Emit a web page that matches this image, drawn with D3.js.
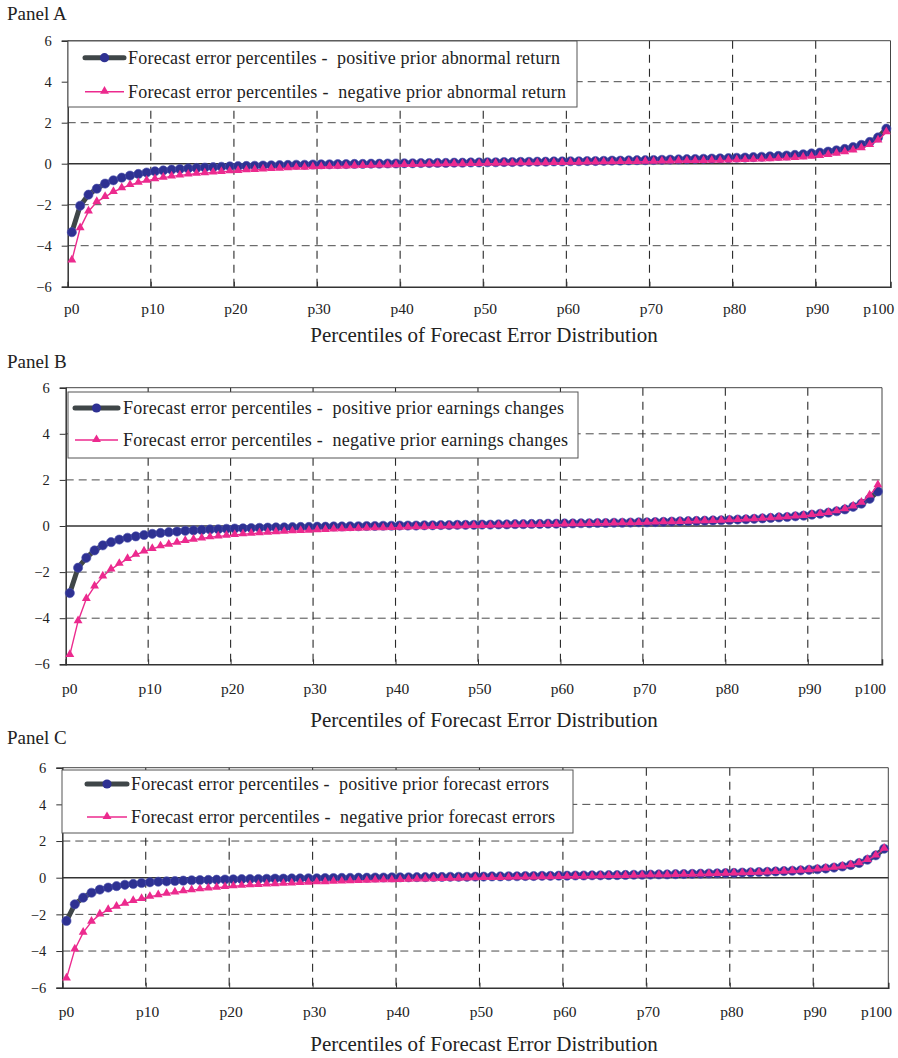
<!DOCTYPE html>
<html><head><meta charset="utf-8">
<script src="https://cdn.jsdelivr.net/npm/d3@7"></script>
<style>
body{margin:0;background:#fff;}
text{font-family:"Liberation Serif","Times New Roman",serif;fill:#222;}
</style></head>
<body><svg id="c" width="898" height="1058"></svg>
<script>
// ---------- DATA ----------
const percentileIndex = [0,1,2,3,4,5,6,7,8,9,10,11,12,13,14,15,16,17,18,19,20,21,22,23,24,25,26,27,28,29,30,31,32,33,34,35,36,37,38,39,40,41,42,43,44,45,46,47,48,49,50,51,52,53,54,55,56,57,58,59,60,61,62,63,64,65,66,67,68,69,70,71,72,73,74,75,76,77,78,79,80,81,82,83,84,85,86,87,88,89,90,91,92,93,94,95,96,97,98];
const xTickLabels = ["p0","p10","p20","p30","p40","p50","p60","p70","p80","p90","p100"];
const yTicks = [-6,-4,-2,0,2,4,6];
const panelTitles = ["Panel A","Panel B","Panel C"];
const xAxisTitle = "Percentiles of Forecast Error Distribution";
const legendA = ["Forecast error percentiles -  positive prior abnormal return","Forecast error percentiles -  negative prior abnormal return"];
const legendB = ["Forecast error percentiles -  positive prior earnings changes","Forecast error percentiles -  negative prior earnings changes"];
const legendC = ["Forecast error percentiles -  positive prior forecast errors","Forecast error percentiles -  negative prior forecast errors"];

const panelA_pos = [-3.34,-2.05,-1.51,-1.22,-0.97,-0.81,-0.68,-0.58,-0.50,-0.43,-0.37,
 -0.33,-0.29,-0.26,-0.23,-0.21,-0.19,-0.17,-0.15,-0.13,-0.12,
 -0.11,-0.10,-0.09,-0.08,-0.07,-0.06,-0.05,-0.05,-0.04,-0.03,
 -0.03,-0.02,-0.02,-0.01,-0.01,0.00,0.00,0.01,0.01,0.02,
 0.02,0.03,0.03,0.04,0.04,0.05,0.05,0.06,0.06,0.07,
 0.07,0.08,0.08,0.09,0.09,0.10,0.10,0.11,0.11,0.12,
 0.12,0.13,0.13,0.14,0.15,0.15,0.16,0.17,0.17,0.18,
 0.19,0.20,0.21,0.22,0.23,0.24,0.25,0.26,0.27,0.29,
 0.30,0.32,0.34,0.36,0.38,0.40,0.43,0.46,0.50,0.54,
 0.59,0.65,0.72,0.81,0.92,1.06,1.28,1.71];
const panelA_neg = [-4.72,-3.14,-2.33,-1.86,-1.62,-1.38,-1.19,-1.04,-0.93,-0.83,-0.75,
 -0.68,-0.62,-0.57,-0.53,-0.49,-0.46,-0.43,-0.40,-0.37,-0.35,
 -0.32,-0.30,-0.28,-0.26,-0.24,-0.22,-0.20,-0.19,-0.17,-0.16,
 -0.15,-0.14,-0.13,-0.12,-0.11,-0.10,-0.09,-0.08,-0.07,-0.06,
 -0.06,-0.05,-0.04,-0.04,-0.03,-0.02,-0.02,-0.01,-0.01,0.00,
 0.00,0.01,0.01,0.02,0.02,0.03,0.03,0.04,0.04,0.05,
 0.05,0.06,0.06,0.07,0.07,0.08,0.08,0.09,0.10,0.10,
 0.11,0.11,0.12,0.13,0.13,0.14,0.15,0.15,0.16,0.17,
 0.18,0.19,0.21,0.22,0.24,0.26,0.28,0.31,0.34,0.38,
 0.43,0.49,0.56,0.65,0.76,0.91,1.14,1.54];
const panelB_pos = [-2.91,-1.81,-1.38,-1.06,-0.84,-0.70,-0.59,-0.51,-0.45,-0.39,-0.34,
 -0.30,-0.27,-0.24,-0.21,-0.19,-0.17,-0.15,-0.14,-0.12,-0.11,
 -0.10,-0.09,-0.08,-0.07,-0.06,-0.06,-0.05,-0.04,-0.04,-0.03,
 -0.03,-0.02,-0.02,-0.01,-0.01,0.00,0.00,0.01,0.01,0.02,
 0.02,0.02,0.03,0.03,0.04,0.04,0.05,0.05,0.05,0.06,
 0.06,0.07,0.07,0.08,0.08,0.09,0.09,0.10,0.10,0.11,
 0.11,0.12,0.12,0.13,0.13,0.14,0.14,0.15,0.16,0.16,
 0.17,0.18,0.19,0.20,0.21,0.22,0.23,0.24,0.25,0.26,
 0.28,0.29,0.31,0.33,0.35,0.37,0.39,0.42,0.45,0.49,
 0.53,0.58,0.64,0.72,0.83,0.97,1.18,1.50];
const panelB_neg = [-5.59,-4.13,-3.16,-2.62,-2.19,-1.88,-1.64,-1.43,-1.25,-1.10,-0.99,
 -0.88,-0.81,-0.72,-0.65,-0.59,-0.54,-0.49,-0.45,-0.42,-0.39,
 -0.36,-0.33,-0.31,-0.29,-0.27,-0.25,-0.23,-0.21,-0.20,-0.18,
 -0.17,-0.15,-0.14,-0.13,-0.12,-0.11,-0.10,-0.09,-0.08,-0.07,
 -0.06,-0.05,-0.05,-0.04,-0.03,-0.02,-0.02,-0.01,0.00,0.00,
 0.01,0.02,0.02,0.03,0.04,0.04,0.05,0.06,0.06,0.07,
 0.08,0.08,0.09,0.10,0.10,0.11,0.12,0.12,0.13,0.14,
 0.15,0.16,0.17,0.18,0.19,0.20,0.21,0.22,0.23,0.25,
 0.26,0.28,0.30,0.32,0.34,0.36,0.38,0.41,0.44,0.48,
 0.52,0.57,0.64,0.73,0.85,1.01,1.33,1.77];
const panelC_pos = [-2.36,-1.45,-1.09,-0.82,-0.65,-0.54,-0.46,-0.39,-0.34,-0.29,-0.25,
 -0.22,-0.20,-0.18,-0.16,-0.14,-0.13,-0.12,-0.11,-0.10,-0.09,
 -0.08,-0.07,-0.07,-0.06,-0.05,-0.05,-0.04,-0.04,-0.03,-0.03,
 -0.02,-0.02,-0.01,-0.01,0.00,0.00,0.01,0.01,0.02,0.02,
 0.02,0.03,0.03,0.04,0.04,0.05,0.05,0.05,0.06,0.06,
 0.07,0.07,0.08,0.08,0.09,0.09,0.10,0.10,0.11,0.11,
 0.12,0.12,0.13,0.13,0.14,0.14,0.15,0.16,0.16,0.17,
 0.18,0.18,0.19,0.20,0.21,0.22,0.23,0.24,0.25,0.26,
 0.28,0.29,0.31,0.32,0.34,0.36,0.38,0.40,0.43,0.46,
 0.50,0.55,0.61,0.69,0.80,0.98,1.22,1.58];
const panelC_neg = [-5.49,-3.91,-3.00,-2.40,-2.00,-1.76,-1.58,-1.42,-1.27,-1.16,-1.04,
 -0.95,-0.87,-0.80,-0.74,-0.68,-0.63,-0.58,-0.54,-0.51,-0.47,
 -0.44,-0.41,-0.39,-0.37,-0.35,-0.33,-0.31,-0.29,-0.27,-0.25,
 -0.24,-0.22,-0.21,-0.19,-0.18,-0.17,-0.15,-0.14,-0.13,-0.12,
 -0.11,-0.10,-0.09,-0.08,-0.07,-0.06,-0.05,-0.04,-0.03,-0.02,
 -0.02,-0.01,0.00,0.01,0.01,0.02,0.03,0.03,0.04,0.05,
 0.06,0.06,0.07,0.08,0.09,0.09,0.10,0.11,0.12,0.13,
 0.14,0.14,0.15,0.16,0.17,0.18,0.19,0.20,0.22,0.23,
 0.24,0.26,0.27,0.29,0.31,0.33,0.36,0.38,0.41,0.45,
 0.49,0.54,0.60,0.68,0.79,0.97,1.21,1.58];

// ---------- LAYOUT ----------
const svg = d3.select("#c");
const FONT = "Liberation Serif";
const COL_POS_LINE = "#3f4648", COL_POS_MARK = "#2e3192", COL_NEG = "#ec2a8e";

const panels = [
  {title:panelTitles[0], pos:panelA_pos, neg:panelA_neg, legend:legendA,
   L:67.7, R:890.5, T:40.7, B:286.7, titleY:20, tickY:314, axTitleY:342,
   lg:{x0:68,y0:41,x1:577,y1:107,r1:57.7,r2:91.7,lx0:85,lx1:124,tx:128,tw:[432,438]}},
  {title:panelTitles[1], pos:panelB_pos, neg:panelB_neg, legend:legendB,
   L:65.7, R:882, T:387.7, B:664.3, titleY:368, tickY:694, axTitleY:727,
   lg:{x0:68,y0:392,x1:578,y1:458,r1:408,r2:440,lx0:75,lx1:118,tx:123,tw:[441,445]}},
  {title:panelTitles[2], pos:panelC_pos, neg:panelC_neg, legend:legendC,
   L:62.3, R:888.3, T:767.7, B:987.7, titleY:744, tickY:1017, axTitleY:1051,
   lg:{x0:62,y0:770,x1:573,y1:833,r1:784,r2:817,lx0:87,lx1:127,tx:131,tw:[418,424]}}
];

const tri = d3.symbol().type(d3.symbolTriangle).size(34);

panels.forEach(p => {
  const g = svg.append("g");
  const x = d3.scaleLinear().domain([0, percentileIndex.length]).range([p.L, p.R]);
  const y = d3.scaleLinear().domain([-6, 6]).range([p.B, p.T]);
  const cx = i => x(i + 0.5);

  g.append("text").attr("x", 7).attr("y", p.titleY).attr("font-family", FONT).attr("font-size", 19).text(p.title);

  g.selectAll(".hg").data(yTicks.filter(v => v !== 0 && v !== 6 && v !== -6)).join("line")
    .attr("x1", p.L).attr("x2", p.R).attr("y1", d => y(d)).attr("y2", d => y(d))
    .attr("stroke", "#4a4a4a").attr("stroke-width", 1).attr("stroke-dasharray", "8,5");
  const vg = [10,20,30,40,50,60,70,80,90];
  g.selectAll(".vg").data(vg).join("line")
    .attr("x1", d => x(d)).attr("x2", d => x(d)).attr("y1", p.T).attr("y2", p.B)
    .attr("stroke", "#2a2a2a").attr("stroke-width", 1.1).attr("stroke-dasharray", "8,6");

  g.append("line").attr("x1", p.L).attr("x2", p.R).attr("y1", p.T).attr("y2", p.T).attr("stroke", "#444");
  g.append("line").attr("x1", p.R).attr("x2", p.R).attr("y1", p.T).attr("y2", p.B).attr("stroke", "#444");

  g.append("line").attr("x1", p.L).attr("x2", p.R).attr("y1", y(0)).attr("y2", y(0))
    .attr("stroke", "#333").attr("stroke-width", 1.5);

  const ya = g.append("g").attr("transform", `translate(${p.L},0)`)
    .call(d3.axisLeft(y).tickValues(yTicks).tickSize(6).tickPadding(10).tickFormat(d3.format("d")));
  ya.select(".domain").attr("stroke", "#333").attr("stroke-width", 1.5);
  ya.selectAll(".tick line").attr("stroke", "#333");
  ya.selectAll("text").attr("font-size", 14.5).attr("font-family", FONT).attr("fill", "#222");

  const xa = g.append("g").attr("transform", `translate(0,${p.B})`)
    .call(d3.axisBottom(x).tickValues(vg).tickSize(-5).tickFormat(""));
  xa.select(".domain").attr("stroke", "#333").attr("stroke-width", 1.5);
  xa.selectAll(".tick line").attr("stroke", "#333");

  const labelPos = [0.5,10,20,30,40,50,60,70,80,90,97.6];
  g.selectAll(".xl").data(xTickLabels).join("text")
    .attr("x", (d, i) => x(labelPos[i]) + (i > 0 && i < 10 ? 2 : 0)).attr("y", p.tickY)
    .attr("text-anchor", "middle").attr("font-family", FONT).attr("font-size", 15.5).text(d => d);

  g.append("text").attr("x", 484).attr("y", p.axTitleY).attr("text-anchor", "middle")
    .attr("font-family", FONT).attr("font-size", 21).text(xAxisTitle);

  const line1 = d3.line().x((d, i) => cx(i)).y(d => y(d));
  g.append("path").datum(p.pos).attr("d", line1).attr("fill", "none")
    .attr("stroke", COL_POS_LINE).attr("stroke-width", 5).attr("stroke-linejoin", "round");
  g.selectAll(".m1").data(p.pos).join("circle")
    .attr("cx", (d, i) => cx(i)).attr("cy", d => y(d)).attr("r", 4.6)
    .attr("fill", COL_POS_MARK).attr("stroke", "#4b50b0").attr("stroke-width", 0.6);

  g.append("path").datum(p.neg).attr("d", line1).attr("fill", "none")
    .attr("stroke", COL_NEG).attr("stroke-width", 1.4);
  g.selectAll(".m2").data(p.neg).join("path")
    .attr("d", tri).attr("transform", (d, i) => `translate(${cx(i)},${y(d) - 0.5})`)
    .attr("fill", COL_NEG);

  const lg = p.lg;
  g.append("rect").attr("x", lg.x0).attr("y", lg.y0).attr("width", lg.x1 - lg.x0).attr("height", lg.y1 - lg.y0)
    .attr("fill", "#fff").attr("stroke", "#555").attr("stroke-width", 1);
  const mx = (lg.lx0 + lg.lx1) / 2;
  g.append("line").attr("x1", lg.lx0).attr("x2", lg.lx1).attr("y1", lg.r1).attr("y2", lg.r1)
    .attr("stroke", COL_POS_LINE).attr("stroke-width", 5).attr("stroke-linecap", "round");
  g.append("circle").attr("cx", mx).attr("cy", lg.r1).attr("r", 4.6).attr("fill", COL_POS_MARK);
  g.append("line").attr("x1", lg.lx0).attr("x2", lg.lx1).attr("y1", lg.r2).attr("y2", lg.r2)
    .attr("stroke", COL_NEG).attr("stroke-width", 1.4);
  g.append("path").attr("d", tri).attr("transform", `translate(${mx},${lg.r2 - 0.5})`).attr("fill", COL_NEG);
  [lg.r1, lg.r2].forEach((ry, k) => {
    g.append("text").attr("x", lg.tx).attr("y", ry + 6).attr("font-family", FONT).attr("font-size", 18)
      .attr("textLength", lg.tw[k]).attr("lengthAdjust", "spacing")
      .style("white-space", "pre").text(p.legend[k]);
  });
});
</script></body></html>
